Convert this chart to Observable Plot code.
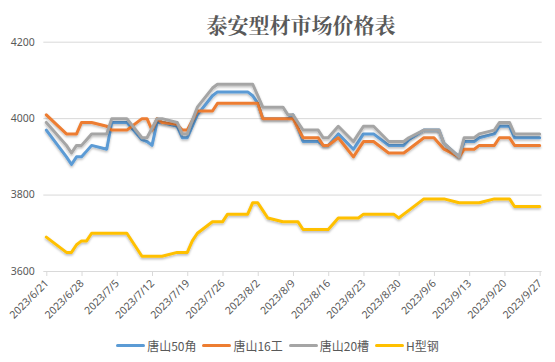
<!DOCTYPE html>
<html>
<head>
<meta charset="utf-8">
<script src="https://cdn.jsdelivr.net/npm/d3@7"></script>
<script src="https://cdn.jsdelivr.net/npm/@observablehq/plot@0.6"></script>
<style>
  body { margin: 0; background: #fff; }
  #wrap { position: relative; width: 555px; height: 362px; overflow: hidden; background: #fff; }
  #chart { position: absolute; left: 0; top: 0; }
  #title { position: absolute; left: 0; top: 10px; width: 602px; text-align: center;
           font: bold 21px "Noto Serif CJK SC", "Noto Sans CJK SC", sans-serif; color: #595959; line-height: 28px; }
  #legend { position: absolute; left: 0; top: 337px; width: 555px; display: flex; justify-content: center;
            align-items: center; font: 12px "Noto Sans CJK SC", sans-serif; color: #595959; }
  .item { display: flex; align-items: center; margin: 0 3px; }
  .sw { width: 29px; height: 3px; border-radius: 1.5px; margin-right: 2px; }
</style>
</head>
<body>
<div id="wrap">
  <div id="chart"></div>
  <div id="title"></div>
  <div id="legend"></div>
</div>
<script>
const chartTitle = "泰安型材市场价格表";
const seriesNames = ["唐山50角", "唐山16工", "唐山20槽", "H型钢"];
const seriesColors = ["#5B9BD5", "#ED7D31", "#A5A5A5", "#FFC000"];

const dates = [
  "2023-06-21","2023-06-25","2023-06-26","2023-06-27","2023-06-28","2023-06-29","2023-06-30",
  "2023-07-03","2023-07-04","2023-07-05","2023-07-06","2023-07-07",
  "2023-07-10","2023-07-11","2023-07-12","2023-07-13","2023-07-14",
  "2023-07-17","2023-07-18","2023-07-19","2023-07-20","2023-07-21",
  "2023-07-24","2023-07-25","2023-07-26","2023-07-27","2023-07-28",
  "2023-07-31","2023-08-01","2023-08-02","2023-08-03","2023-08-04",
  "2023-08-07","2023-08-08","2023-08-09","2023-08-10","2023-08-11",
  "2023-08-14","2023-08-15","2023-08-16","2023-08-17","2023-08-18",
  "2023-08-21","2023-08-22","2023-08-23","2023-08-24","2023-08-25",
  "2023-08-28","2023-08-29","2023-08-30","2023-08-31","2023-09-01",
  "2023-09-04","2023-09-05","2023-09-06","2023-09-07","2023-09-08",
  "2023-09-11","2023-09-12","2023-09-13","2023-09-14","2023-09-15",
  "2023-09-18","2023-09-19","2023-09-20","2023-09-21","2023-09-22",
  "2023-09-25","2023-09-26","2023-09-27"
];

const tangshan50 = [
  3970,3900,3880,3900,3900,3915,3930,
  3920,3990,3990,3990,3990,
  3945,3940,3930,3990,3990,
  3980,3950,3950,3980,4010,
  4060,4070,4070,4070,4070,
  4070,4060,4040,4000,4000,
  4000,4000,4010,3975,3940,
  3940,3930,3930,3945,3960,
  3920,3940,3960,3960,3960,
  3930,3930,3930,3930,3945,
  3970,3970,3970,3970,3935,
  3900,3940,3940,3940,3950,
  3960,3980,3980,3980,3950,
  3950,3950,3950
];

const tangshan16 = [
  4010,3960,3960,3960,3990,3990,3990,
  3980,3970,3970,3970,3970,
  4000,4000,3970,4000,3990,
  3985,3970,3970,3995,4020,
  4020,4040,4040,4040,4040,
  4040,4040,4040,4000,4000,
  4000,4000,4000,3975,3950,
  3950,3930,3930,3940,3950,
  3900,3920,3940,3940,3940,
  3910,3910,3910,3910,3920,
  3950,3950,3950,3935,3920,
  3900,3920,3920,3920,3930,
  3930,3950,3950,3950,3930,
  3930,3930,3930
];

const tangshan20 = [
  3990,3930,3910,3930,3930,3945,3960,
  3960,4000,4000,4000,4000,
  3950,3950,3975,4000,4000,
  3990,3960,3960,3995,4030,
  4080,4090,4090,4090,4090,
  4090,4090,4060,4030,4030,
  4030,4010,4010,3990,3970,
  3970,3950,3950,3965,3980,
  3940,3960,3980,3980,3980,
  3940,3940,3940,3940,3950,
  3970,3970,3970,3970,3935,
  3900,3950,3950,3950,3960,
  3970,3990,3990,3990,3960,
  3960,3960,3960
];

const hSteel = [
  3690,3650,3650,3670,3680,3680,3700,
  3700,3700,3700,3700,3700,
  3640,3640,3640,3640,3640,
  3650,3650,3650,3680,3700,
  3730,3730,3730,3750,3750,
  3750,3780,3780,3760,3740,
  3730,3730,3730,3730,3710,
  3710,3710,3710,3725,3740,
  3740,3740,3750,3750,3750,
  3750,3750,3740,3750,3760,
  3790,3790,3790,3790,3790,
  3780,3780,3780,3780,3780,
  3790,3790,3790,3790,3770,
  3770,3770,3770
];

const xTickLabels = ["2023/6/21","2023/6/28","2023/7/5","2023/7/12","2023/7/19","2023/7/26","2023/8/2",
  "2023/8/9","2023/8/16","2023/8/23","2023/8/30","2023/9/6","2023/9/13","2023/9/20","2023/9/27"];
const yTicks = [3600, 3800, 4000, 4200];
const yDomain = [3600, 4200];
const xDomainLabels = ["2023/6/21", "2023/9/28"];

const parseSlash = s => { const [y, m, d] = s.split("/").map(Number); return new Date(Date.UTC(y, m - 1, d)); };
const parseDash = s => { const [y, m, d] = s.split("-").map(Number); return new Date(Date.UTC(y, m - 1, d)); };
const HALF_DAY = 12 * 3600 * 1000;

const allSeries = [tangshan50, tangshan16, tangshan20, hSteel];
const rows = [];
allSeries.forEach((vals, si) => {
  vals.forEach((v, i) => rows.push({ series: seriesNames[si], date: new Date(parseDash(dates[i]).getTime() + HALF_DAY), value: v }));
});

const xTicks = xTickLabels.map(parseSlash);
const labelOf = new Map(xTicks.map((d, i) => [d.getTime(), xTickLabels[i]]));

const lineMarks = seriesNames.map((name, si) =>
  Plot.line(rows.filter(r => r.series === name), {
    x: "date", y: "value", stroke: seriesColors[si], strokeWidth: 3,
    strokeLinejoin: "round", strokeLinecap: "round"
  })
);

const plot = Plot.plot({
  width: 555,
  height: 362,
  marginLeft: 43.3,
  marginRight: 13.3,
  marginTop: 41.7,
  marginBottom: 91,
  style: { fontFamily: "'Noto Sans', sans-serif", fontSize: "10.5px", color: "#595959", background: "transparent", overflow: "visible" },
  x: { type: "utc", domain: xDomainLabels.map(parseSlash) },
  y: { domain: yDomain },
  marks: [
    Plot.gridY(yTicks, { stroke: "#d9d9d9", strokeOpacity: 1, strokeWidth: 1 }),
    Plot.axisY(yTicks, { tickSize: 0, tickPadding: 9, label: null, tickFormat: d => String(d), fill: "#595959" }),
    Plot.axisX(xTicks, { tickRotate: -45, tickSize: 5, tickPadding: 5, dx: 3, stroke: "#d9d9d9", strokeOpacity: 1,
      label: null, fill: "#595959", tickFormat: d => labelOf.get(d.getTime()) }),
    ...lineMarks
  ]
});

// soft shadow under lines
const ns = "http://www.w3.org/2000/svg";
const defs = document.createElementNS(ns, "defs");
const filt = document.createElementNS(ns, "filter");
filt.setAttribute("id", "lineShadow");
filt.setAttribute("x", "-10%"); filt.setAttribute("y", "-20%");
filt.setAttribute("width", "120%"); filt.setAttribute("height", "140%");
const ds = document.createElementNS(ns, "feDropShadow");
ds.setAttribute("dx", "0"); ds.setAttribute("dy", "1.5");
ds.setAttribute("stdDeviation", "1.2"); ds.setAttribute("flood-color", "#000"); ds.setAttribute("flood-opacity", "0.28");
filt.appendChild(ds); defs.appendChild(filt);
plot.insertBefore(defs, plot.firstChild);
plot.querySelectorAll('g[aria-label="line"]').forEach(g => g.setAttribute("filter", "url(#lineShadow)"));

document.getElementById("chart").appendChild(plot);
document.getElementById("title").textContent = chartTitle;

const legend = document.getElementById("legend");
seriesNames.forEach((name, i) => {
  const item = document.createElement("div");
  item.className = "item";
  const sw = document.createElement("span");
  sw.className = "sw";
  sw.style.background = seriesColors[i];
  const tx = document.createElement("span");
  tx.textContent = name;
  item.appendChild(sw); item.appendChild(tx);
  legend.appendChild(item);
});
</script>
</body>
</html>
